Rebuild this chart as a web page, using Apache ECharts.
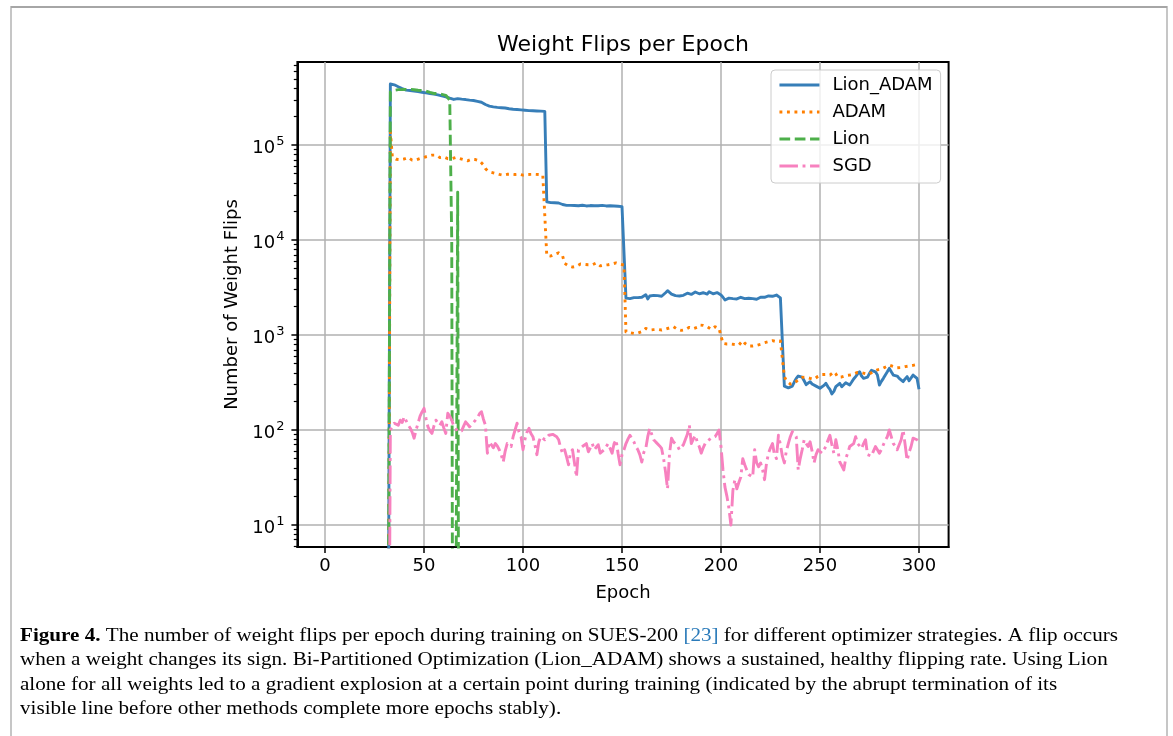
<!DOCTYPE html>
<html>
<head>
<meta charset="utf-8">
<title>Weight Flips per Epoch</title>
<script src="https://cdn.jsdelivr.net/npm/echarts@6.0.0/dist/echarts.min.js"></script>
<style>
html, body { margin: 0; padding: 0; background: #ffffff; }
#chart { width: 1173px; height: 736px; }
</style>
</head>
<body>
<div id="chart"></div>
<script>
// ---------------- data ----------------
const firstEpoch = 1;
const lastEpoch = 300;
const firstRecordedEpoch = 33;   // epochs 1..32 recorded 0 flips

// values for epochs 33..300
const lionAdamFlips = [
  440000,438000,432000,425000,412000,403000,395000,385000,380000,378000,
  376000,374000,372000,370000,367000,364000,361000,358000,355000,352000,
  350000,347000,345000,342000,338000,334000,330000,326000,323000,318000,
  312000,305000,303000,310000,309000,307000,305000,304000,302000,300000,
  298000,296000,295000,292000,289000,286000,283000,279000,268000,262000,
  258000,255000,253000,252000,250000,249000,248000,247000,246000,244000,
  242000,240000,239000,238000,237000,236000,235000,234000,233000,232000,
  231000,230000,230000,229000,229000,228000,228000,228000,227000,
  25300,25000,24800,25000,24700,24800,24600,24400,23700,23300,
  23200,23100,23200,23000,23100,23200,23000,23100,23300,23100,
  22900,23000,23100,23200,23000,22800,23000,23100,23200,23000,
  22900,23100,23000,22800,22900,22800,22700,22600,22500,22400,
  2450,2380,2420,2360,2480,2540,2480,2560,2500,2600,
  2660,2400,2580,2700,2620,2520,2600,2620,2560,2620,
  2790,2930,2820,2700,2620,2600,2660,2580,2560,2620,
  2720,2760,2700,2680,2800,2840,2760,2720,2740,2790,
  2760,2700,2860,2800,2720,2760,2800,2700,2640,2500,
  2340,2420,2450,2380,2420,2460,2400,2440,2500,2460,
  2420,2520,2440,2460,2420,2480,2380,2440,2500,2560,
  2500,2480,2580,2640,2560,2620,2640,2540,2460,2360,
  290,285,278,275,290,320,350,370,378,360,
  330,300,312,323,305,295,290,282,275,282,
  295,310,285,268,240,255,286,300,310,285,
  280,315,310,298,320,345,365,390,411,370,
  350,338,360,395,425,446,410,380,298,325,
  350,380,410,446,410,379,380,370,350,335,
  323,345,365,330,340,379,365,350,268
];

const adamFlips = [
  140000,75000,73000,71000,70500,70500,70700,71500,73000,74200,
  72000,69500,68400,70000,71500,72400,73500,74500,75300,76500,
  77500,78500,78500,78500,78000,74000,72400,75000,74000,72000,
  70700,72000,73500,74200,73000,72400,71500,70500,69500,68400,
  70000,71000,71300,70500,69500,68400,66000,62000,56800,54000,
  52400,51800,51200,50500,49800,49200,48800,48300,48800,49300,
  49500,49500,49300,49000,49300,49500,49000,48300,48500,49000,
  49500,49200,49000,49300,49500,49000,48800,48000,46500,
  6900,6700,6800,6950,7100,7300,7350,7100,6800,5700,
  5500,5350,5250,5200,5150,5300,5500,5600,5550,5550,
  5550,5500,5460,5500,5650,5760,5500,5350,5320,5450,
  5580,5500,5460,5600,5700,5760,5650,5580,5520,5460,
  1080,1070,1060,1050,1040,1026,1050,1070,1084,1120,
  1175,1150,1130,1129,1140,1150,1148,1140,1129,1140,
  1155,1166,1190,1210,1225,1190,1148,1130,1120,1111,
  1140,1180,1205,1185,1170,1166,1210,1275,1270,1265,
  1275,1230,1180,1148,1190,1225,1200,1170,1148,818,
  812,805,800,805,805,795,790,785,830,873,
  820,790,767,770,767,775,780,785,800,818,
  830,845,851,860,873,860,851,855,865,873,
  365,330,315,305,298,310,323,340,350,358,
  365,360,352,350,346,342,355,368,379,384,
  389,385,380,379,395,411,390,360,350,362,
  370,374,377,379,384,389,398,405,411,402,
  395,392,390,389,402,415,425,430,436,440,
  446,460,472,483,475,468,460,452,446,455,
  462,465,468,472,476,480,483,490,495
];

// Lion: epochs 33..68, then the run stops (gradient explosion)
const lionFlips = [
  364000,372000,378000,382000,384000,385000,385000,386000,387000,388000,
  387000,385000,383000,381000,379000,378000,376000,374000,372000,366000,
  359000,352000,350000,351000,350000,346000,343000,340000,335000,325000,
  298000,10000,0,0,32000,0
];

const sgdFlips = [
  100,110,118,122,112,127,120,138,125,113,
  105,95,82,100,118,140,155,169,133,108,
  98,92,110,127,118,112,122,105,92,150,
  140,127,110,104,96,100,98,110,122,115,
  108,113,120,127,135,148,156,130,113,57,
  75,70,65,72,68,62,55,46,60,72,
  70,67,85,100,118,95,85,62,80,95,
  104,92,85,70,55,75,85,82,79,82,
  88,85,90,92,85,79,65,57,62,52,
  43,58,62,45,32,62,65,67,70,72,
  59,65,72,62,66,70,57,55,62,64,
  72,70,57,72,79,57,43,55,62,72,
  80,88,92,75,67,62,55,46,58,64,
  85,104,90,79,75,72,68,64,50,36,
  24,57,82,75,72,68,62,66,70,72,
  90,113,72,80,88,75,67,57,65,72,
  76,79,82,85,85,92,100,67,38,25,
  20,15,10,23,30,24,28,32,50,43,
  38,34,33,32,62,45,41,45,38,30,
  45,57,65,72,55,50,88,70,53,45,
  60,72,85,96,90,85,38,50,62,79,
  72,67,75,60,45,55,62,60,57,62,
  67,78,88,70,57,79,62,46,42,38,
  50,57,67,70,72,85,72,68,64,72,
  79,55,54,53,60,67,62,57,62,70,
  78,85,100,85,72,68,62,70,79,100,
  70,48,58,67,82,80,79,75
];

const seriesNames = ['Lion_ADAM', 'ADAM', 'Lion', 'SGD'];
const xTickValues = [0, 50, 100, 150, 200, 250, 300];
const yTickValues = [10, 100, 1000, 10000, 100000];
const yTickExponents = ['1', '2', '3', '4', '5'];
const yMinorTickValues = [
  6, 7, 8, 9,
  20, 30, 40, 50, 60, 70, 80, 90,
  200, 300, 400, 500, 600, 700, 800, 900,
  2000, 3000, 4000, 5000, 6000, 7000, 8000, 9000,
  20000, 30000, 40000, 50000, 60000, 70000, 80000, 90000,
  200000, 300000, 400000, 500000, 600000, 700000
];

const captionLines = [
  '{b|Figure 4.} The number of weight flips per epoch during training on SUES-200 {l|[23]} for different optimizer strategies. A flip occurs',
  'when a weight changes its sign. Bi-Partitioned Optimization (Lion_ADAM) shows a sustained, healthy flipping rate. Using Lion',
  'alone for all weights led to a gradient explosion at a certain point during training (indicated by the abrupt termination of its',
  'visible line before other methods complete more epochs stably).'
];

// ---------------- chart ----------------
const X_MIN = -13.95, X_MAX = 314.95;
const Y_MIN = 5.86, Y_MAX = 751000;
const LOG_FLOOR = 1e-6;   // non-positive values are clipped below the axis (as matplotlib does)
const FONT = 'DejaVu Sans';

function buildSeriesData(values) {
  const out = [];
  for (let e = firstEpoch; e <= lastEpoch; e++) {
    let v;
    if (e < firstRecordedEpoch) v = 0;
    else {
      const k = e - firstRecordedEpoch;
      v = k < values.length ? values[k] : null;
    }
    out.push([e, v === null ? null : (v > 0 ? v : LOG_FLOOR)]);
  }
  return out;
}

const colors = ['#377eb8', '#ff7f00', '#4daf4a', '#f781bf'];
const LW = 2.9;
const dashes = ['solid', [LW, 4.6], [10.7, 4.6], [18.5, 4.6, LW, 4.6]];
const valuesList = [lionAdamFlips, adamFlips, lionFlips, sgdFlips];

const series = seriesNames.map((name, i) => ({
  name: name,
  type: 'line',
  xAxisIndex: 0,
  yAxisIndex: 0,
  data: buildSeriesData(valuesList[i]),
  symbol: 'none',
  showSymbol: false,
  clip: true,
  connectNulls: false,
  silent: true,
  emphasis: { disabled: true },
  itemStyle: { color: colors[i] },
  lineStyle: { color: colors[i], width: LW, type: dashes[i], cap: 'butt', join: 'round' }
}));

// caption width fitting
const CAP_FONT_SIZE = 19;
const CAP_FAMILY = 'Liberation Serif';
function measure(line) {
  const c = document.createElement('canvas').getContext('2d');
  let w = 0;
  const parts = line.split(/(\{[bl]\|[^}]*\})/);
  parts.forEach(p => {
    const m = p.match(/^\{([bl])\|([^}]*)\}$/);
    if (m) {
      c.font = (m[1] === 'b' ? 'bold ' : '') + CAP_FONT_SIZE + 'px "' + CAP_FAMILY + '"';
      w += c.measureText(m[2]).width;
    } else {
      c.font = CAP_FONT_SIZE + 'px "' + CAP_FAMILY + '"';
      w += c.measureText(p).width;
    }
  });
  return w;
}
const capScale = 1098 / measure(captionLines[0]);

const captionGraphics = captionLines.map((line, i) => ({
  type: 'text',
  x: 20,
  y: 636 + i * 24.3,
  scaleX: capScale,
  silent: true,
  style: {
    text: line,
    fontFamily: CAP_FAMILY,
    fontSize: CAP_FONT_SIZE,
    fill: '#000',
    verticalAlign: 'middle',
    align: 'left',
    rich: {
      b: { fontFamily: CAP_FAMILY, fontSize: CAP_FONT_SIZE, fontWeight: 'bold', fill: '#000' },
      l: { fontFamily: CAP_FAMILY, fontSize: CAP_FONT_SIZE, fill: '#2b7bba' }
    }
  }
}));

const option = {
  animation: false,
  backgroundColor: '#ffffff',
  title: {
    text: 'Weight Flips per Epoch',
    left: 618,
    top: 29,
    textAlign: 'center',
    textStyle: { fontFamily: FONT, fontSize: 22, fontWeight: 'normal', color: '#000' }
  },
  grid: {
    left: 297.4, right: 224.4, top: 62, bottom: 189,
    show: true, borderColor: '#000', borderWidth: 2, backgroundColor: 'transparent',
    containLabel: false, outerBoundsMode: 'none'
  },
  legend: {
    data: seriesNames,
    orient: 'vertical',
    left: 771,
    top: 70,
    align: 'left',
    itemWidth: 40,
    itemHeight: 18,
    itemGap: 9,
    padding: [6, 8, 8, 7],
    backgroundColor: 'rgba(255,255,255,0.8)',
    borderColor: '#cccccc',
    borderWidth: 1,
    borderRadius: 4,
    selectedMode: false,
    itemStyle: { opacity: 0, borderWidth: 0 },
    lineStyle: { width: LW },
    textStyle: { fontFamily: FONT, fontSize: 18, color: '#000', lineHeight: 18, padding: [0, 0, 0, 8] }
  },
  xAxis: {
    type: 'value',
    min: X_MIN,
    max: X_MAX,
    name: 'Epoch',
    nameLocation: 'middle',
    nameGap: 37,
    nameTextStyle: { fontFamily: FONT, fontSize: 18, color: '#000', lineHeight: 18 },
    axisLine: { show: true, onZero: false, lineStyle: { color: '#000', width: 2 } },
    axisTick: { show: true, customValues: xTickValues, length: 6, lineStyle: { color: '#000', width: 1.5 } },
    axisLabel: { customValues: xTickValues, margin: 10, fontFamily: FONT, fontSize: 18, color: '#000', lineHeight: 18 },
    splitLine: { show: true, lineStyle: { color: '#b0b0b0', width: 1.5 } },
    minorTick: { show: false }
  },
  yAxis: [
    {
      type: 'log',
      logBase: 10,
      min: Y_MIN,
      max: Y_MAX,
      position: 'left',
      name: 'Number of Weight Flips',
      nameLocation: 'middle',
      nameGap: 47,
      nameTextStyle: { fontFamily: FONT, fontSize: 18, color: '#000', lineHeight: 18 },
      axisLine: { show: true, onZero: false, lineStyle: { color: '#000', width: 2 } },
      axisTick: { show: true, customValues: yTickValues, length: 6, lineStyle: { color: '#000', width: 1.5 } },
      axisLabel: {
        customValues: yTickValues,
        margin: 13,
        formatter: function (v) {
          const k = yTickValues.indexOf(v);
          return '{b|10}{s|' + (k >= 0 ? yTickExponents[k] : '') + '}';
        },
        rich: {
          b: { fontFamily: FONT, fontSize: 18, color: '#000', lineHeight: 24, verticalAlign: 'bottom' },
          s: { fontFamily: FONT, fontSize: 13, color: '#000', lineHeight: 13, verticalAlign: 'top', padding: [2, 0, 0, 1] }
        }
      },
      splitLine: { show: true, lineStyle: { color: '#b0b0b0', width: 1.5 } }
    },
    {
      type: 'log',
      logBase: 10,
      min: Y_MIN,
      max: Y_MAX,
      position: 'left',
      axisLine: { show: false, onZero: false },
      axisLabel: { show: false },
      splitLine: { show: false },
      axisTick: { show: true, customValues: yMinorTickValues, length: 3.6, lineStyle: { color: '#000', width: 1.2 } }
    }
  ],
  series: series,
  graphic: [
    {
      type: 'rect', silent: true, z: -10,
      shape: { x: 11, y: 7, width: 1156, height: 740 },
      style: { fill: 'none', stroke: '#c6c6c6', lineWidth: 2 }
    },
    {
      type: 'line', silent: true, z: -9,
      shape: { x1: 11, y1: 7, x2: 1167, y2: 7 },
      style: { stroke: '#a6a6a6', lineWidth: 2 }
    }
  ].concat(captionGraphics)
};

const chart = echarts.init(document.getElementById('chart'), null, { renderer: 'canvas', width: 1173, height: 736 });
chart.setOption(option);
</script>
</body>
</html>
